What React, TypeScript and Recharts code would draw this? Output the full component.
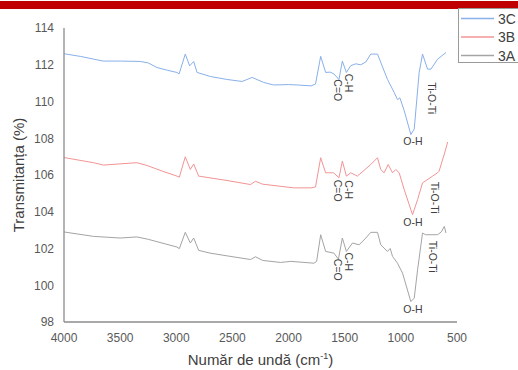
import React from 'react';
import { LineChart, Line, XAxis, YAxis, ReferenceDot, Legend } from 'recharts';

// ---- data (wavenumber cm-1, transmittance %) ----
const xTicks = [4000, 3500, 3000, 2500, 2000, 1500, 1000, 500];
const yTicks = [98, 100, 102, 104, 106, 108, 110, 112, 114];

const seriesNames = ['3C', '3B', '3A'];
const seriesColors = ['#88b0ea', '#f29494', '#a4a4a4'];

const wave3C = [4000, 3850, 3652, 3500, 3321, 3250, 3172, 3080, 2994, 2975, 2920, 2881, 2845, 2815, 2696, 2550, 2414, 2324, 2223, 2134, 2000, 1923, 1800, 1760, 1714, 1670, 1630, 1596, 1551, 1521, 1485, 1446, 1402, 1357, 1312, 1268, 1208, 1179, 1119, 1060, 1030, 1009, 970, 911, 881, 837, 807, 762, 732, 673, 598];
const val3C = [112.6, 112.45, 112.2, 112.2, 112.18, 112.1, 111.85, 111.7, 111.58, 111.5, 112.58, 111.94, 112.18, 111.58, 111.36, 111.2, 111.09, 111.31, 111.04, 110.9, 110.92, 110.9, 110.85, 110.95, 112.46, 111.58, 111.6, 111.5, 111.2, 112.2, 111.58, 111.95, 112.05, 112.0, 112.15, 112.58, 112.58, 112.13, 111.2, 110.5, 110.1, 110.2, 109.5, 108.2, 108.5, 111.58, 112.58, 111.76, 111.76, 112.3, 112.67];

const wave3B = [4000, 3738, 3649, 3351, 3262, 3120, 2994, 2973, 2920, 2875, 2845, 2801, 2548, 2339, 2295, 2230, 1953, 1800, 1760, 1714, 1670, 1600, 1551, 1521, 1485, 1446, 1387, 1268, 1208, 1179, 1149, 1113, 1074, 1045, 1015, 970, 896, 851, 807, 717, 673, 660, 640, 610, 583];
const val3B = [106.95, 106.67, 106.54, 106.67, 106.52, 106.2, 105.94, 105.88, 106.99, 106.3, 106.6, 105.94, 105.7, 105.48, 105.66, 105.5, 105.3, 105.3, 105.35, 106.94, 106.12, 106.12, 105.85, 106.76, 105.94, 106.12, 105.94, 106.57, 106.94, 106.3, 106.12, 106.57, 106.12, 106.3, 106.12, 105.2, 103.84, 104.66, 105.57, 105.94, 106.12, 106.2, 106.6, 107.2, 107.8];

const wave3A = [4000, 3738, 3500, 3351, 3250, 2994, 2973, 2920, 2875, 2845, 2801, 2700, 2548, 2339, 2295, 2230, 2071, 1980, 1774, 1750, 1714, 1670, 1596, 1556, 1521, 1485, 1431, 1372, 1312, 1268, 1208, 1179, 1119, 1095, 1074, 1030, 985, 911, 881, 851, 807, 780, 673, 640, 613, 598];
const val3A = [102.9, 102.66, 102.57, 102.63, 102.5, 102.08, 101.99, 102.88, 102.3, 102.57, 101.9, 101.75, 101.6, 101.4, 101.55, 101.35, 101.24, 101.3, 101.2, 101.3, 102.75, 101.84, 101.75, 101.42, 102.57, 101.84, 102.3, 102.2, 102.57, 102.88, 102.88, 102.2, 101.84, 102.0, 101.57, 101.2, 100.66, 99.11, 99.3, 100.84, 102.84, 102.75, 102.75, 102.9, 103.2, 102.84];

// band annotations: label, rotated, anchor per series (wavenumber, value)
const annotationLabels = ['C=O', 'C-H', 'O-H', 'Ti-O-Ti'];
const annotationRotated = [true, true, false, true];
const annotWave3C = [1562, 1464, 893, 723];
const annotVal3C = [110.61, 111.0, 107.83, 110.18];
const annotWave3B = [1562, 1464, 893, 696];
const annotVal3B = [105.15, 105.2, 103.46, 104.77];
const annotWave3A = [1562, 1464, 893, 714];
const annotVal3A = [100.84, 101.28, 98.71, 101.55];

const zip = (w: number[], v: number[]) => w.map((x, i) => ({ w: x, v: v[i] }));
const seriesData = [zip(wave3C, val3C), zip(wave3B, val3B), zip(wave3A, val3A)];
const annotations = [
  zip(annotWave3C, annotVal3C),
  zip(annotWave3B, annotVal3B),
  zip(annotWave3A, annotVal3A),
];

const FONT = '"Liberation Sans", Arial, sans-serif';

const annoContent = (text: string, rot: boolean) => (props: any) => {
  const vb = props.viewBox || {};
  const cx = (vb.x || 0) + (vb.width || 0) / 2;
  const cy = (vb.y || 0) + (vb.height || 0) / 2;
  return (
    <text
      x={cx}
      y={cy}
      transform={rot ? `rotate(90 ${cx} ${cy})` : undefined}
      textAnchor="middle"
      dominantBaseline="central"
      fontSize={10.5}
      fontFamily={FONT}
      fill="#404040"
    >
      {text}
    </text>
  );
};

const yLabel = (props: any) => {
  const vb = props.viewBox || {};
  const x = 18;
  const y = vb.y + vb.height / 2;
  return (
    <text x={x} y={y} transform={`rotate(-90 ${x} ${y})`} textAnchor="middle" dominantBaseline="central" fontSize={15} fontFamily={FONT} fill="#404040">
      Transmitanța (%)
    </text>
  );
};

const xLabel = (props: any) => {
  const vb = props.viewBox || {};
  const x = vb.x + vb.width / 2;
  return (
    <text x={x} y={365} textAnchor="middle" fontSize={15} fontFamily={FONT} fill="#404040">
      Număr de undă (cm
      <tspan dy={-6} fontSize={9}>-1</tspan>
      <tspan dy={6}>)</tspan>
    </text>
  );
};

const LegendBox = () => (
  <div style={{ width: 70, height: 55, border: '1px solid #9a9a9a', background: '#fff', boxSizing: 'border-box' }}>
    <svg width={70} height={55} style={{ display: 'block' }}>
      {seriesNames.map((n, i) => {
        const y = 9.5 + i * 18.5;
        return (
          <g key={n}>
            <line x1={2} x2={35} y1={y} y2={y} stroke={seriesColors[i]} strokeWidth={1.5} />
            <text x={39} y={y} dominantBaseline="central" fontSize={14} fontFamily={FONT} fill="#404040">
              {n}
            </text>
          </g>
        );
      })}
    </svg>
  </div>
);

export default function App() {
  return (
    <div style={{ position: 'absolute', left: 0, top: 0, width: 518, height: 370, background: '#fff', overflow: 'hidden' }}>
      <div style={{ position: 'absolute', left: 0, top: 1, width: 518, height: 8, background: '#c00000' }} />
      <div style={{ position: 'absolute', left: 0, top: 0 }}>
        <LineChart width={518} height={370} margin={{ top: 28, right: 61, bottom: 18, left: 0 }}>
          <XAxis
            dataKey="w"
            type="number"
            domain={[500, 4000]}
            reversed
            ticks={xTicks}
            allowDataOverflow
            tickLine={false}
            tickSize={6}
            tickMargin={5}
            height={30}
            axisLine={{ stroke: '#8c8c8c', strokeWidth: 1.3 }}
            tick={{ fill: '#595959', fontSize: 12, fontFamily: FONT }}
            label={{ content: xLabel }}
          />
          <YAxis
            dataKey="v"
            type="number"
            domain={[98, 114]}
            ticks={yTicks}
            allowDataOverflow
            tickLine={false}
            tickSize={6}
            tickMargin={4}
            width={64}
            axisLine={{ stroke: '#8c8c8c', strokeWidth: 1.3 }}
            tick={{ fill: '#595959', fontSize: 12, fontFamily: FONT }}
            label={{ content: yLabel }}
          />
          {seriesNames.map((n, i) => (
            <Line
              key={n}
              name={n}
              data={seriesData[i]}
              dataKey="v"
              type="linear"
              stroke={seriesColors[i]}
              strokeWidth={1}
              dot={false}
              isAnimationActive={false}
            />
          ))}
          {annotations.map((list, si) =>
            list.map((a, ai) => (
              <ReferenceDot
                key={`${si}-${ai}`}
                x={a.w}
                y={a.v}
                r={0}
                fill="none"
                stroke="none"
                label={{ content: annoContent(annotationLabels[ai], annotationRotated[ai]) }}
              />
            ))
          )}
          <Legend
            layout="horizontal"
            verticalAlign="middle"
            align="center"
            wrapperStyle={{ left: 458, top: 8, width: 70, height: 55 }}
            content={() => <LegendBox />}
          />
        </LineChart>
      </div>
    </div>
  );
}
